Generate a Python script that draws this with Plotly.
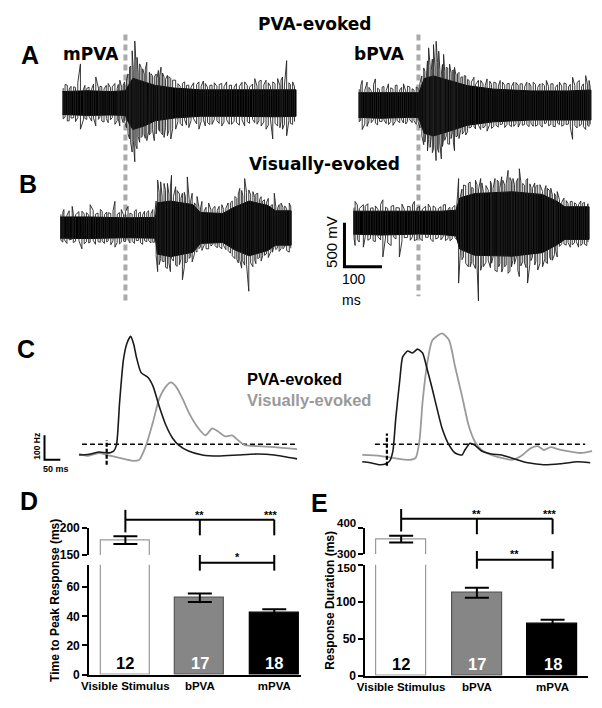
import plotly.graph_objects as go

W, H = 602, 708
ARIAL = "Liberation Sans, Arial, Helvetica, sans-serif"
DEJAVU = "DejaVu Sans, Verdana, sans-serif"

# ---------------- DATA ----------------
A_L_core_t = [-168, -100, -40, 0, 8, 20, 50, 80, 130, 200, 300, 400, 455]
A_L_core_up = [130, 140, 130, 140, 200, 280, 240, 200, 170, 150, 150, 150, 150]
A_L_core_lo = [-130, -140, -135, -140, -220, -300, -260, -200, -170, -150, -150, -155, -150]
A_L_spk_t = [-155, -138, -120, -103, -79, -63, -46, -28, -15, -6, 11, 18, 25, 31, 38, 46, 57, 68, 77, 88,
             95, 103, 112, 121, 134, 152, 169, 196, 213, 231, 257, 283, 318, 345, 362, 375, 393, 406, 419, 430, 446]
A_L_spk_top = [203, 185, 444, 166, 296, 185, 222, 222, 259, 203, 407, 592, 703, 518, 444, 388, 462, 333, 296, 370,
               407, 296, 314, 277, 259, 222, 203, 240, 222, 203, 222, 203, 240, 277, 259, 259, 240, 277, 296, 481, 240]
A_L_spk_bot = [-204, -167, -296, -185, -259, -204, -222, -241, -259, -222, -407, -555, -666, -518, -444, -370, -426, -333, -426, -296,
               -333, -389, -370, -407, -296, -259, -278, -296, -259, -241, -259, -241, -259, -222, -259, -296, -407, -259, -296, -370, -241]
A_L_fr_t = [-166, -161, -150, -145, -133, -127, -112, -108, -97, -90, -85, -72, -68, -57, -51, -40, -35, -22, -19, -10, -2,
            3, 7, 14, 21, 28, 34, 42, 50, 53, 62, 64, 72, 82, 84, 91, 99, 107, 116, 126,
            140, 146, 158, 163, 175, 182, 190, 202, 208, 219, 225, 237, 244, 250, 263, 270, 277, 290, 296, 304,
            311, 325, 331, 339, 351, 356, 369, 381, 387, 399, 412, 415, 424, 436, 440, 451]
A_L_fr_top = [170, 210, 160, 190, 175, 230, 150, 200, 180, 160, 215, 170, 190, 160, 200, 175, 185, 165, 210, 180, 240,
              260, 330, 420, 380, 470, 350, 400, 330, 380, 300, 350, 310, 330, 280, 300, 340, 270, 300, 260,
              220, 190, 240, 200, 180, 230, 210, 190, 250, 180, 200, 230, 190, 210, 185, 240, 200, 180, 220, 190,
              235, 200, 180, 215, 190, 245, 205, 230, 190, 220, 200, 260, 195, 230, 210, 185]
A_L_fr_bot = [-180, -160, -200, -170, -210, -165, -190, -175, -150, -205, -170, -185, -160, -215, -175, -190, -165, -200, -180, -170, -210,
              -280, -350, -450, -420, -480, -380, -390, -350, -400, -320, -360, -300, -350, -290, -320, -360, -280, -310, -290,
              -210, -230, -190, -250, -200, -180, -235, -210, -190, -220, -245, -185, -200, -230, -215, -190, -240, -205, -220, -250,
              -190, -210, -230, -185, -240, -200, -215, -250, -190, -230, -280, -210, -240, -200, -230, -210]

A_R_core_t = [-160, -100, -30, 0, 5, 15, 40, 80, 130, 200, 300, 400, 460]
A_R_core_up = [140, 140, 140, 140, 180, 300, 330, 280, 220, 180, 160, 160, 170]
A_R_core_lo = [-140, -150, -140, -140, -200, -320, -350, -300, -230, -190, -170, -170, -170]
A_R_spk_t = [-150, -137, -115, -97, -80, -62, -40, -23, 21, 27, 34, 40, 47, 54, 61, 67, 74, 83, 90, 96, 104, 113,
             122, 135, 148, 166, 183, 201, 218, 236, 254, 271, 289, 306, 324, 341, 359, 376, 394, 411, 429, 446, 455]
A_R_spk_top = [278, 259, 296, 203, 240, 222, 240, 203, 314, 648, 388, 685, 722, 610, 352, 574, 426, 463, 388, 426, 352, 314,
               333, 278, 314, 278, 296, 259, 278, 240, 259, 240, 259, 259, 240, 278, 240, 259, 240, 314, 278, 333, 278]
A_R_spk_bot = [-278, -241, -204, -185, -222, -185, -204, -167, -278, -389, -352, -500, -629, -537, -611, -389, -352, -444, -315, -518, -352, -278,
               -296, -259, -241, -278, -296, -241, -222, -222, -241, -204, -222, -241, -222, -204, -241, -222, -222, -389, -241, -278, -241]
A_R_fr_t = [-158, -154, -143, -132, -126, -120, -109, -104, -92, -86, -74, -68, -57, -50, -45, -34, -29, -17, -12, -6, -1,
            4, 9, 14, 17, 24, 31, 37, 44, 51, 57, 64, 70, 78, 87, 93, 100, 108, 117, 126, 131,
            141, 152, 160, 172, 178, 190, 195, 207, 213, 224, 230, 242, 248, 260, 266, 277, 283, 295, 300, 312,
            318, 330, 336, 347, 353, 365, 371, 382, 388, 400, 405, 417, 423, 435, 440, 451, 458]
A_R_fr_top = [180, 220, 170, 200, 160, 230, 190, 175, 210, 165, 195, 180, 225, 170, 200, 160, 215, 185, 170, 205, 190,
              250, 330, 420, 380, 500, 450, 520, 430, 480, 400, 460, 380, 420, 360, 400, 340, 370, 320, 330, 290,
              260, 230, 280, 240, 220, 270, 235, 250, 215, 260, 225, 245, 210, 255, 220, 240, 205, 250, 215, 235,
              200, 245, 220, 210, 240, 200, 230, 215, 250, 205, 235, 220, 255, 210, 240, 225, 200]
A_R_fr_bot = [-190, -170, -215, -180, -200, -165, -225, -185, -170, -210, -190, -230, -175, -200, -165, -215, -185, -200, -175, -220, -190,
              -260, -350, -450, -420, -520, -480, -540, -450, -500, -430, -470, -400, -440, -380, -420, -360, -380, -330, -340, -300,
              -250, -270, -230, -260, -240, -220, -265, -230, -250, -215, -255, -225, -245, -210, -250, -230, -220, -245, -205, -240,
              -225, -250, -210, -235, -220, -245, -205, -240, -225, -215, -250, -230, -260, -215, -245, -230, -220]

B_L_core_t = [-174, -100, 0, 80, 85, 120, 180, 200, 260, 290, 330, 380, 400, 442]
B_L_core_up = [120, 120, 110, 115, 280, 300, 260, 170, 160, 230, 300, 250, 190, 190]
B_L_core_lo = [-120, -125, -115, -120, -300, -330, -280, -180, -170, -250, -320, -260, -200, -200]
B_L_spk_t = [-164, -142, -116, -94, -67, -46, -28, -11, 7, 29, 51, 73, 86, 94, 103, 112, 123, 134, 152,
             165, 178, 191, 204, 222, 239, 257, 274, 292, 305, 318, 329, 340, 353, 371, 397, 415, 437]
B_L_spk_top = [204, 240, 185, 259, 204, 167, 296, 204, 240, 204, 185, 204, 537, 518, 500, 500, 592, 463, 389,
               574, 389, 352, 296, 278, 240, 259, 278, 352, 444, 555, 426, 407, 389, 315, 389, 278, 278]
B_L_spk_bot = [-130, -130, -241, -167, -167, -148, -222, -167, -130, -148, -148, -167, -500, -352, -389, -463, -352, -426, -592,
               -389, -389, -278, -259, -241, -204, -241, -259, -352, -370, -426, -722, -444, -352, -315, -204, -241, -278]
B_L_fr_t = [-172, -167, -156, -150, -139, -133, -124, -110, -104, -98, -86, -80, -73, -62, -56, -50, -39, -33, -22, -16,
            -5, 0, 12, 18, 24, 35, 40, 46, 57, 62, 68, 78,
            82, 90, 98, 107, 116, 120, 128, 138, 144, 148, 157, 160, 170, 174, 184, 188, 196,
            200, 210, 215, 228, 233, 245, 250, 262, 268, 280, 285,
            297, 301, 310, 313, 323, 334, 345, 348, 358, 362, 366, 376, 381, 388, 392,
            401, 406, 410, 420, 425, 430, 441]
B_L_fr_top = [150, 175, 140, 190, 160, 145, 180, 155, 170, 140, 195, 150, 165, 185, 145, 175, 160, 190, 150, 170,
              145, 180, 165, 150, 185, 160, 175, 145, 170, 190, 155, 160,
              300, 400, 350, 420, 380, 460, 350, 420, 380, 330, 400, 350, 320, 300, 280, 250, 230,
              210, 190, 230, 200, 215, 195, 240, 205, 220, 280, 300,
              330, 380, 420, 360, 400, 370, 340, 380, 320, 350, 300, 280, 330, 250, 260,
              240, 220, 260, 230, 245, 215, 235]
B_L_fr_bot = [-145, -165, -180, -140, -170, -155, -150, -185, -160, -175, -145, -190, -160, -150, -180, -165, -195, -150, -170, -185,
              -155, -160, -175, -150, -180, -145, -170, -190, -160, -150, -175, -165,
              -320, -420, -380, -450, -400, -500, -380, -440, -420, -360, -450, -400, -350, -330, -300, -270, -240,
              -220, -200, -240, -210, -190, -230, -215, -205, -250, -290, -320,
              -360, -400, -460, -380, -420, -400, -370, -410, -340, -380, -320, -300, -340, -270, -280,
              -250, -230, -270, -240, -220, -260, -235]

B_R_core_t = [-174, -100, 0, 60, 100, 110, 150, 250, 330, 370, 390, 455]
B_R_core_up = [130, 130, 130, 130, 140, 280, 330, 350, 320, 240, 180, 180]
B_R_core_lo = [-130, -140, -130, -135, -150, -300, -370, -380, -340, -250, -190, -190]
B_R_spk_t = [-169, -147, -121, -95, -73, -51, -29, -11, 19, 46, 72, 90, 107, 120, 133, 146, 160, 173, 186, 199,
             210, 217, 230, 239, 252, 261, 269, 278, 291, 304, 318, 331, 344, 357, 370, 388, 405, 427, 449]
B_R_spk_top = [240, 204, 167, 259, 185, 167, 185, 240, 185, 167, 204, 167, 500, 426, 444, 389, 370, 352, 370, 389,
               481, 389, 426, 592, 500, 463, 611, 444, 500, 389, 426, 352, 389, 315, 352, 278, 240, 204, 130]
B_R_spk_bot = [-259, -278, -204, -389, -259, -389, -167, -204, -167, -185, -204, -185, -685, -389, -500, -463, -888, -500, -426, -389,
               -555, -463, -500, -574, -426, -389, -611, -444, -685, -389, -537, -500, -463, -426, -389, -241, -278, -278, -259]
B_R_fr_t = [-172, -163, -158, -142, -135, -128, -115, -108, -101, -88, -82, -66, -60, -44, -38, -22, -16, -4, 3, 10,
            26, 32, 39, 53, 60, 66, 79, 84, 97, 102,
            112, 116, 126, 138, 142, 152, 156, 166, 169, 180, 192, 195, 204, 214, 222, 225, 234, 244, 248, 256,
            265, 273, 283, 287, 297, 300, 310, 313, 324, 337, 340, 350, 353, 363, 366,
            376, 382, 394, 399, 410, 416, 421, 433, 438, 443, 452]
B_R_fr_top = [170, 200, 160, 185, 215, 165, 190, 150, 205, 175, 160, 195, 170, 210, 155, 180, 200, 165, 185, 150,
              210, 170, 190, 160, 180, 200, 155, 175, 195, 170,
              300, 380, 420, 460, 400, 480, 430, 500, 450, 420, 470, 430, 500, 460, 520, 480, 440, 510, 470, 430,
              500, 460, 420, 480, 440, 400, 450, 410, 430, 380, 420, 360, 390, 330, 300,
              260, 230, 250, 215, 240, 225, 210, 245, 220, 230, 215]
B_R_fr_bot = [-170, -190, -220, -165, -200, -180, -215, -160, -195, -175, -230, -165, -185, -210, -170, -200, -160, -190, -175, -205,
              -165, -185, -215, -170, -195, -160, -180, -205, -170, -190,
              -320, -420, -460, -500, -440, -520, -470, -540, -480, -450, -510, -460, -540, -500, -560, -520, -480, -550, -500, -470,
              -540, -490, -460, -510, -470, -430, -480, -440, -460, -410, -450, -390, -420, -360, -320,
              -270, -240, -255, -225, -250, -230, -215, -260, -235, -245, -220]

SCALE_MS = 100
SCALE_MV = 500

C_L_black_t = [-87.5, -60, -22, 0, 22, 31, 41, 53, 64, 76, 86, 94, 109, 131, 147, 166, 188, 209, 228, 259, 303, 353, 416, 478, 531, 603]
C_L_black_hz = [50, 52, 62, 58, 66, 90, 266, 438, 505, 534, 500, 450, 386, 366, 330, 250, 170, 118, 90, 66, 50, 46, 50, 54, 50, 34]
C_L_grey_t = [-87.5, -62.5, -22, 0, 41, 84, 103, 125, 147, 166, 188, 203, 219, 241, 259, 291, 313, 334, 353, 375, 397, 416, 438, 478, 531, 603]
C_L_grey_hz = [54, 46, 58, 50, 38, 26, 30, 90, 186, 278, 330, 346, 330, 278, 226, 158, 130, 158, 146, 126, 130, 110, 90, 86, 82, 74]
C_R_black_t = [-78, -53, -22, -3, 9, 19, 28, 41, 50, 66, 81, 97, 113, 128, 144, 159, 175, 197, 216, 238, 247, 263, 278, 300, 331, 363, 394, 447, 497, 550, 603, 644]
C_R_black_hz = [22, 18, 10, 14, 26, 66, 198, 358, 450, 474, 466, 482, 466, 398, 318, 238, 158, 90, 58, 50, 70, 98, 90, 66, 54, 50, 38, 18, 10, 14, 22, 18]
C_R_grey_t = [-78, -22, 19, 72, 91, 103, 113, 128, 144, 175, 197, 216, 238, 259, 278, 300, 331, 363, 394, 425, 456, 478, 497, 519, 541, 572, 613, 650]
C_R_grey_hz = [50, 46, 38, 30, 38, 106, 266, 426, 518, 546, 518, 410, 290, 170, 106, 70, 50, 38, 30, 46, 78, 86, 70, 82, 74, 66, 58, 66]
C_threshold_hz = 94
C_L_thr_t = [-78, 603]
C_R_thr_t = [-38, 628]
C_L_onset_hz = [10, 110]
C_R_onset_hz = [6, 138]
C_SCALE_HZ = 100
C_SCALE_MS = 50

categories = ["Visible Stimulus", "bPVA", "mPVA"]
D_mean = [177, 52.8, 42.7]
D_sem = [7, 3, 2.2]
E_mean = [356, 112, 70.4]
E_sem = [13, 6.7, 5]
n_counts = [12, 17, 18]
D_sig_top = ["**", "***"]
D_sig_low = "*"
E_sig_top = ["**", "***"]
E_sig_low = "**"
E_lower_ticks = [0, 50, 100, 150]
E_upper_ticks = [300, 400]

# ---------------- LAYOUT HELPERS ----------------
def pxx(a, b):
    return [a / W, b / W]


def pxy(top, bot):
    return [1 - bot / H, 1 - top / H]


fig = go.Figure()
layout = {}
annotations = []
shapes = []


def ann(text, x, y, size, color="black", family=ARIAL, bold=True, angle=0,
        xanchor="center", yanchor="middle", xref="paper", yref="paper", xshift=0, yshift=0):
    annotations.append(dict(
        text=text, x=(x / W if xref == "paper" else x), y=(1 - y / H if yref == "paper" else y),
        xref=xref, yref=yref, showarrow=False, textangle=angle, xanchor=xanchor, yanchor=yanchor,
        xshift=xshift, yshift=yshift,
        font=dict(size=size, color=color, family=family, weight="bold" if bold else "normal")))


def axname(kind, n):
    return kind + ("" if n == 1 else str(n))


def axref(kind, n):
    return kind + ("" if n == 1 else str(n))


# ---------------- A / B recordings ----------------
MS_PER_PX = 100 / 38
MV_PER_PX = 500 / 45
rec_axes = {1: (50, 297, 119, 28, 170, 98),
            2: (350, 596, 416, 28, 170, 100),
            3: (48, 292, 119, 160, 312, 225),
            4: (345, 596, 416, 155, 310, 220)}
for n, (x0, x1, xs, y0, y1, yc) in rec_axes.items():
    layout[axname("xaxis", n)] = dict(domain=pxx(x0, x1), range=[(x0 - xs) * MS_PER_PX, (x1 - xs) * MS_PER_PX],
                                      visible=False, anchor=axref("y", n))
    layout[axname("yaxis", n)] = dict(domain=pxy(y0, y1), range=[(yc - y1) * MV_PER_PX, (yc - y0) * MV_PER_PX],
                                      visible=False, anchor=axref("x", n))

recs = [(1, A_L_core_t, A_L_core_up, A_L_core_lo,
         [(A_L_spk_t, A_L_spk_top, A_L_spk_bot), (A_L_fr_t, A_L_fr_top, A_L_fr_bot)]),
        (2, A_R_core_t, A_R_core_up, A_R_core_lo,
         [(A_R_spk_t, A_R_spk_top, A_R_spk_bot), (A_R_fr_t, A_R_fr_top, A_R_fr_bot)]),
        (3, B_L_core_t, B_L_core_up, B_L_core_lo,
         [(B_L_spk_t, B_L_spk_top, B_L_spk_bot), (B_L_fr_t, B_L_fr_top, B_L_fr_bot)]),
        (4, B_R_core_t, B_R_core_up, B_R_core_lo,
         [(B_R_spk_t, B_R_spk_top, B_R_spk_bot), (B_R_fr_t, B_R_fr_top, B_R_fr_bot)])]
for n, ct, cu, cl, spk_sets in recs:
    xa, ya = axref("x", n), axref("y", n)
    fig.add_trace(go.Scatter(x=ct + ct[::-1], y=cu + cl[::-1], fill="toself", fillcolor="black",
                             mode="lines", line=dict(color="black", width=1), xaxis=xa, yaxis=ya,
                             hoverinfo="skip", showlegend=False))
    events = sorted([e for s in spk_sets for e in zip(*s)])
    zx, zy = [], []
    for i, (t, a, b) in enumerate(events):
        zx += [t, t]
        zy += ([a, b] if i % 2 == 0 else [b, a])
    fig.add_trace(go.Scatter(x=zx, y=zy, mode="lines", line=dict(color="#222222", width=0.9),
                             xaxis=xa, yaxis=ya, hoverinfo="skip", showlegend=False))

for xp, ybot in [(119, 300), (416, 295)]:
    shapes.append(dict(type="line", xref="paper", yref="paper", x0=xp / W, x1=xp / W,
                       y0=1 - 28 / H, y1=1 - ybot / H, layer="below",
                       line=dict(color="#aaaaaa", width=4, dash="6px,4px")))

sb0x, sb0y = 341, 265
layout["xaxis5"] = dict(domain=pxx(330, 395), range=[(330 - sb0x) * MS_PER_PX, (395 - sb0x) * MS_PER_PX],
                        visible=False, anchor="y5")
layout["yaxis5"] = dict(domain=pxy(210, 275), range=[(sb0y - 275) * MV_PER_PX, (sb0y - 210) * MV_PER_PX],
                        visible=False, anchor="x5")
fig.add_trace(go.Scatter(x=[0, 0, SCALE_MS], y=[SCALE_MV, 0, 0], mode="lines",
                         line=dict(color="black", width=3), xaxis="x5", yaxis="y5",
                         hoverinfo="skip", showlegend=False))
ann("%d mV" % SCALE_MV, 328, 240, 15, bold=False, angle=-90)
ann("%d" % SCALE_MS, 351, 277, 14, bold=False)
ann("ms", 348, 299, 14, bold=False)

ann("PVA-evoked", 311, 17, 17, family=DEJAVU)
ann("Visually-evoked", 321, 160, 17, family=DEJAVU)
ann("mPVA", 84, 47.5, 17, family=DEJAVU)
ann("bPVA", 377, 48, 17, family=DEJAVU)
ann("A", 22, 48.5, 25)
ann("B", 20.5, 181, 25)
ann("C", 18.5, 348.5, 25)
ann("D", 21.5, 504, 25)
ann("E", 316, 506, 25)

# ---------------- C firing rates ----------------
MS_PER_PX_C = 3.125
HZ_PER_PX = 4.0
base_px = 457
for n, (x0, x1, xs) in {6: (28, 298, 100), 7: (352, 598, 384)}.items():
    layout["xaxis%d" % n] = dict(domain=pxx(x0, x1), range=[(x0 - xs) * MS_PER_PX_C, (x1 - xs) * MS_PER_PX_C],
                                 visible=False, anchor="y%d" % n)
    layout["yaxis%d" % n] = dict(domain=pxy(322, 478), range=[50 - (478 - base_px) * HZ_PER_PX, 50 + (base_px - 322) * HZ_PER_PX],
                                 visible=False, anchor="x%d" % n)

for n, bt, bh, gt, gh, thr_t, onset in [(6, C_L_black_t, C_L_black_hz, C_L_grey_t, C_L_grey_hz, C_L_thr_t, C_L_onset_hz),
                                        (7, C_R_black_t, C_R_black_hz, C_R_grey_t, C_R_grey_hz, C_R_thr_t, C_R_onset_hz)]:
    xa, ya = "x%d" % n, "y%d" % n
    fig.add_trace(go.Scatter(x=thr_t, y=[C_threshold_hz] * 2, mode="lines",
                             line=dict(color="black", width=1.6, dash="5px,3px"),
                             xaxis=xa, yaxis=ya, hoverinfo="skip", showlegend=False))
    fig.add_trace(go.Scatter(x=gt, y=gh, mode="lines", line=dict(color="#9a9a9a", width=1.8, shape="spline", smoothing=0.6),
                             xaxis=xa, yaxis=ya, hoverinfo="skip", showlegend=False))
    fig.add_trace(go.Scatter(x=bt, y=bh, mode="lines", line=dict(color="#1a1a1a", width=1.6, shape="spline", smoothing=0.6),
                             xaxis=xa, yaxis=ya, hoverinfo="skip", showlegend=False))
    fig.add_trace(go.Scatter(x=[0, 0], y=onset, mode="lines", line=dict(color="black", width=2.2, dash="4px,2px"),
                             xaxis=xa, yaxis=ya, hoverinfo="skip", showlegend=False))

c0t = (37 - 100) * MS_PER_PX_C
c0h = 50 + (base_px - 462) * HZ_PER_PX
fig.add_trace(go.Scatter(x=[c0t, c0t, c0t + C_SCALE_MS], y=[c0h + C_SCALE_HZ, c0h, c0h], mode="lines",
                         line=dict(color="black", width=2), xaxis="x6", yaxis="y6",
                         hoverinfo="skip", showlegend=False))
ann("%d Hz" % C_SCALE_HZ, 30, 448, 8.5, angle=-90)
ann("%d ms" % C_SCALE_MS, 49, 471, 9)
ann("PVA-evoked", 240, 379, 16.5, xanchor="left")
ann("Visually-evoked", 240, 401, 16.5, color="#9a9a9a", xanchor="left")

# ---------------- D / E bar charts ----------------
bar_fill = ["white", "#868686", "black"]
bar_line = ["#999999", "#555555", "black"]
n_colors = ["black", "white", "white"]


def yax(dom, rng, tv, xa, ttext=None):
    return dict(domain=dom, range=rng, tickvals=tv, ticktext=(ttext if ttext is not None else [str(v) for v in tv]),
                anchor=xa, showline=True, linecolor="black",
                linewidth=1.5, ticks="outside", ticklen=5, tickwidth=1.5, tickcolor="black",
                showgrid=False, zeroline=False,
                tickfont=dict(family=ARIAL, size=12, color="black", weight="bold"))


# D axes
layout["xaxis8"] = dict(domain=pxx(82, 297), range=[-0.49, 2.36], anchor="y8")
layout["yaxis8"] = yax(pxy(569, 681), [0, 75.5], [0, 20, 40, 60], "x8")
layout["yaxis9"] = yax(pxy(531, 559), [150, 200], [150, 200], "x8")
# E axes: the labels at the break (150 below, 300 above) are drawn as nudged annotations
layout["xaxis9"] = dict(domain=pxx(362, 588), range=[-0.475, 2.47], anchor="y10")
layout["yaxis10"] = yax(pxy(569, 682), [0, 150], E_lower_ticks, "x9",
                        [str(v) for v in E_lower_ticks[:-1]] + [""])
layout["yaxis11"] = yax(pxy(531, 558), [300, 400], E_upper_ticks, "x9", [""] * len(E_upper_ticks))
for k in ("xaxis8", "xaxis9"):
    layout[k].update(showline=True, linecolor="black", linewidth=1.5, ticks="", tickvals=[0, 1, 2],
                     ticktext=categories, showgrid=False, zeroline=False,
                     tickfont=dict(family=ARIAL, size=11.5, color="black", weight="bold"))

for xn, yl, yu, mean, sem in [(8, 8, 9, D_mean, D_sem), (9, 10, 11, E_mean, E_sem)]:
    for yn in (yl, yu):
        fig.add_trace(go.Bar(x=[0, 1, 2], y=mean, width=0.66,
                             marker=dict(color=bar_fill, line=dict(color=bar_line, width=1.2)),
                             error_y=dict(type="data", array=sem, color="black", thickness=2, width=12),
                             xaxis="x%d" % xn, yaxis="y%d" % yn, hoverinfo="skip", showlegend=False))

for v, ys in zip(E_upper_ticks, [0, 5]):
    ann(str(v), 355, v, 11.5, xanchor="right", yref="y11", yshift=ys)
ann(str(E_lower_ticks[-1]), 355, E_lower_ticks[-1], 11.5, xanchor="right", yref="y10", yshift=-3)

for xn, ypx in [(8, 669), (9, 670)]:
    for i, n in enumerate(n_counts):
        ann(str(n), i, ypx, 16.5, color=n_colors[i], xref="x%d" % xn)

ann("Time to Peak Response (ms)", 47.5, 605, 12, angle=-90)
ann("Response Duration (ms)", 326, 605, 12, angle=-90)


def bracket(xref, ytop, y0tick, ydrop, ylow, ylt0, ylt1, top_stars, low_star, star_y, low_star_y):
    def ln(x0, x1, y0, y1):
        shapes.append(dict(type="line", xref=xref, yref="paper", x0=x0, x1=x1, y0=1 - y0 / H, y1=1 - y1 / H,
                           line=dict(color="black", width=2)))
    ln(0, 2, ytop, ytop)
    ln(0, 0, y0tick[0], y0tick[1])
    ln(1, 1, ytop, ydrop)
    ln(2, 2, ytop, ydrop)
    ln(1, 2, ylow, ylow)
    ln(1, 1, ylt0, ylt1)
    ln(2, 2, ylt0, ylt1)
    ann(top_stars[0], 1, star_y, 11, xref=xref)
    ann(top_stars[1], 2, star_y, 11, xref=xref, xshift=-3)
    ann(low_star, 1.5, low_star_y, 11, xref=xref)


bracket("x8", 523, (513, 536), 539, 567, 559, 575, D_sig_top, D_sig_low, 518, 561)
bracket("x9", 522, (512, 535), 538, 564, 555, 573, E_sig_top, E_sig_low, 517, 558)

layout.update(dict(width=W, height=H, autosize=False, margin=dict(l=0, r=0, t=0, b=0),
                   paper_bgcolor="white", plot_bgcolor="rgba(0,0,0,0)",
                   annotations=annotations, shapes=shapes, showlegend=False, bargap=0))
fig.update_layout(**layout)
fig.write_html("out.html", config={"displayModeBar": False},
               post_script="document.body.style.margin='0px';document.body.style.overflow='hidden';")
